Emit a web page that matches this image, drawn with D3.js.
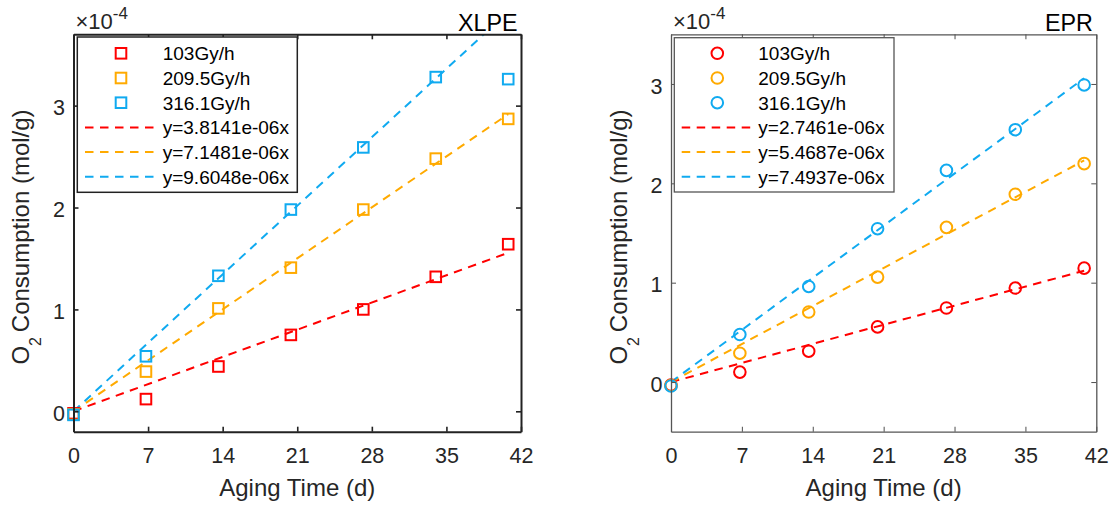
<!DOCTYPE html>
<html>
<head>
<meta charset="utf-8">
<script src="https://cdn.jsdelivr.net/npm/d3@7/dist/d3.min.js"></script>
<style>
  html, body { margin: 0; padding: 0; background: #fff; }
  svg { display: block; font-family: "Liberation Sans", Arial, Helvetica, sans-serif; }
</style>
</head>
<body>
<svg id="chart" width="1115" height="506"></svg>
<script>
// ---------------- DATA (O2 consumption in units of 1e-4 mol/g) ----------------
const days = [0, 6.8, 13.6, 20.4, 27.2, 34, 40.8];
const seriesNames = ["103Gy/h", "209.5Gy/h", "316.1Gy/h"];

const xlpe103 = [-0.02, 0.12, 0.44, 0.75, 1.00, 1.32, 1.64];
const xlpe209 = [-0.03, 0.39, 1.01, 1.41, 1.98, 2.48, 2.87];
const xlpe316 = [-0.035, 0.54, 1.33, 1.98, 2.59, 3.28, 3.26];
const xlpeSlopes = [3.8141e-06, 7.1481e-06, 9.6048e-06];   // mol/g per day
const xlpeFitLabels = ["y=3.8141e-06x", "y=7.1481e-06x", "y=9.6048e-06x"];

const epr103 = [-0.03, 0.10, 0.31, 0.555, 0.745, 0.946, 1.146];
const epr209 = [-0.035, 0.29, 0.705, 1.056, 1.557, 1.89, 2.198];
const epr316 = [-0.04, 0.478, 0.962, 1.543, 2.13, 2.54, 2.99];
const eprSlopes = [2.7461e-06, 5.4687e-06, 7.4937e-06];
const eprFitLabels = ["y=2.7461e-06x", "y=5.4687e-06x", "y=7.4937e-06x"];

const xTicks = [0, 7, 14, 21, 28, 35, 42];
const yTicks = [0, 1, 2, 3];
const colors = ["#FF0000", "#FFAA00", "#10AAF0"];

// ---------------- LAYOUT ----------------
const svg = d3.select("#chart");
const FONT_TICK = 21.5, FONT_LABEL = 24, FONT_LEG = 19, FONT_TITLE = 23.3;

const panels = [
  { title: "XLPE", marker: "square", series: [xlpe103, xlpe209, xlpe316], slopes: xlpeSlopes, fitLabels: xlpeFitLabels,
    x0: 73.5, x1: 521, yDomain: [-0.2, 3.7], axisColor: "#222", axisWidth: 2,
    legend: { x0: 77.3, y0: 37, x1: 297.3, y1: 192.3, mx: 121, lx0: 85, lx1: 156.7, tx: 162.7 },
    ylabX: 28.5 },
  { title: "EPR", marker: "circle", series: [epr103, epr209, epr316], slopes: eprSlopes, fitLabels: eprFitLabels,
    x0: 671, x1: 1096.3, yDomain: [-0.5, 3.5], axisColor: "#555", axisWidth: 1.3,
    legend: { x0: 674.3, y0: 37.7, x1: 894, y1: 192, mx: 717.3, lx0: 681.7, lx1: 753.3, tx: 758.3 },
    ylabX: 627 }
];
const yTop = 34.3, yBot = 431.7;

panels.forEach((p, pi) => {
  const g = svg.append("g");
  const x = d3.scaleLinear().domain([0, 42]).range([p.x0, p.x1]);
  const y = d3.scaleLinear().domain(p.yDomain).range([yBot, yTop]);

  const clipId = "clip" + pi;
  svg.append("defs").append("clipPath").attr("id", clipId)
    .append("rect").attr("x", p.x0).attr("y", yTop).attr("width", p.x1 - p.x0).attr("height", yBot - yTop);

  // fit lines (clipped)
  const lineG = g.append("g").attr("clip-path", `url(#${clipId})`);
  p.slopes.forEach((s, i) => {
    const xe = d3.max(days);
    lineG.append("line")
      .attr("x1", x(0)).attr("y1", y(0))
      .attr("x2", x(xe)).attr("y2", y(s * xe * 1e4))
      .attr("stroke", colors[i]).attr("stroke-width", 2)
      .attr("stroke-dasharray", "8.5,6.5");
  });

  // markers
  p.series.forEach((vals, i) => {
    vals.forEach((v, k) => {
      const cx = x(days[k]), cy = y(v);
      if (p.marker === "square") {
        g.append("rect").attr("x", cx - 5.3).attr("y", cy - 5.3).attr("width", 10.6).attr("height", 10.6)
          .attr("fill", "none").attr("stroke", colors[i]).attr("stroke-width", 2);
      } else {
        g.append("circle").attr("cx", cx).attr("cy", cy).attr("r", 5.8)
          .attr("fill", "none").attr("stroke", colors[i]).attr("stroke-width", 2);
      }
    });
  });

  // axes (box with inward ticks)
  const styleAxis = sel => {
    sel.selectAll("path.domain").attr("stroke", p.axisColor).attr("stroke-width", p.axisWidth);
    sel.selectAll(".tick line").attr("stroke", p.axisColor).attr("stroke-width", p.axisWidth * 0.8);
    sel.selectAll(".tick text").attr("fill", "#262626").style("font-size", FONT_TICK + "px")
      .style("font-family", "'Liberation Sans', Arial, sans-serif");
  };
  g.append("g").attr("transform", `translate(0,${yBot})`)
    .call(d3.axisBottom(x).tickValues(xTicks).tickSizeInner(-5).tickSizeOuter(0).tickPadding(16.5))
    .call(styleAxis);
  g.append("g").attr("transform", `translate(0,${yTop})`)
    .call(d3.axisTop(x).tickValues(xTicks).tickSizeInner(-5).tickSizeOuter(0).tickFormat(""))
    .call(styleAxis);
  const yl = g.append("g").attr("transform", `translate(${p.x0},0)`)
    .call(d3.axisLeft(y).tickValues(yTicks).tickSizeInner(-5).tickSizeOuter(0).tickPadding(8.5).tickFormat(d3.format("d")))
    .call(styleAxis);
  yl.selectAll(".tick text").attr("dy", "0.42em");
  g.append("g").attr("transform", `translate(${p.x1},0)`)
    .call(d3.axisRight(y).tickValues(yTicks).tickSizeInner(-5).tickSizeOuter(0).tickFormat(""))
    .call(styleAxis);
  g.selectAll("path.domain").attr("fill", "none");

  // exponent
  const ex = g.append("text").attr("x", p.x0 + 2).attr("y", 28.5).attr("fill", "#262626")
    .style("font-size", "22px");
  ex.append("tspan").text("×10");
  ex.append("tspan").attr("dy", -10).style("font-size", "17px").text("-4");

  // title
  g.append("text").attr("x", p.x1 - 3.5).attr("y", 30.7).attr("text-anchor", "end")
    .attr("fill", "#000").style("font-size", FONT_TITLE + "px").text(p.title);

  // x label
  g.append("text").attr("x", (p.x0 + p.x1) / 2).attr("y", 495.5).attr("text-anchor", "middle")
    .attr("fill", "#262626").style("font-size", FONT_LABEL + "px").text("Aging Time (d)");

  // y label
  const ylab = g.append("text")
    .attr("transform", `translate(${p.ylabX},${(yTop + yBot) / 2 + 4}) rotate(-90)`)
    .attr("text-anchor", "middle").attr("fill", "#262626").style("font-size", FONT_LABEL + "px");
  ylab.append("tspan").text("O");
  ylab.append("tspan").attr("dy", 12).style("font-size", "16px").text("2");
  ylab.append("tspan").attr("dy", -12).text("\u2009Consumption (mol/g)");

  // legend
  const L = p.legend;
  g.append("rect").attr("x", L.x0).attr("y", L.y0).attr("width", L.x1 - L.x0).attr("height", L.y1 - L.y0)
    .attr("fill", "#fff").attr("stroke", p.axisColor).attr("stroke-width", pi === 0 ? 1.5 : 1.3);
  const rowY = i => 53.3 + i * 24.7;
  seriesNames.forEach((name, i) => {
    const cy = rowY(i);
    if (p.marker === "square") {
      g.append("rect").attr("x", L.mx - 5.3).attr("y", cy - 5.3).attr("width", 10.6).attr("height", 10.6)
        .attr("fill", "none").attr("stroke", colors[i]).attr("stroke-width", 2);
    } else {
      g.append("circle").attr("cx", L.mx).attr("cy", cy).attr("r", 5.8)
        .attr("fill", "none").attr("stroke", colors[i]).attr("stroke-width", 2);
    }
    g.append("text").attr("x", L.tx).attr("y", cy + 6.8).attr("fill", "#000")
      .style("font-size", FONT_LEG + "px").text(name);
  });
  p.fitLabels.forEach((lab, i) => {
    const cy = rowY(i + 3);
    g.append("line").attr("x1", L.lx0).attr("x2", L.lx1).attr("y1", cy).attr("y2", cy)
      .attr("stroke", colors[i]).attr("stroke-width", 2).attr("stroke-dasharray", "8.5,6.5");
    g.append("text").attr("x", L.tx).attr("y", cy + 6.8).attr("fill", "#000")
      .style("font-size", FONT_LEG + "px").text(lab);
  });
});
</script>
</body>
</html>
